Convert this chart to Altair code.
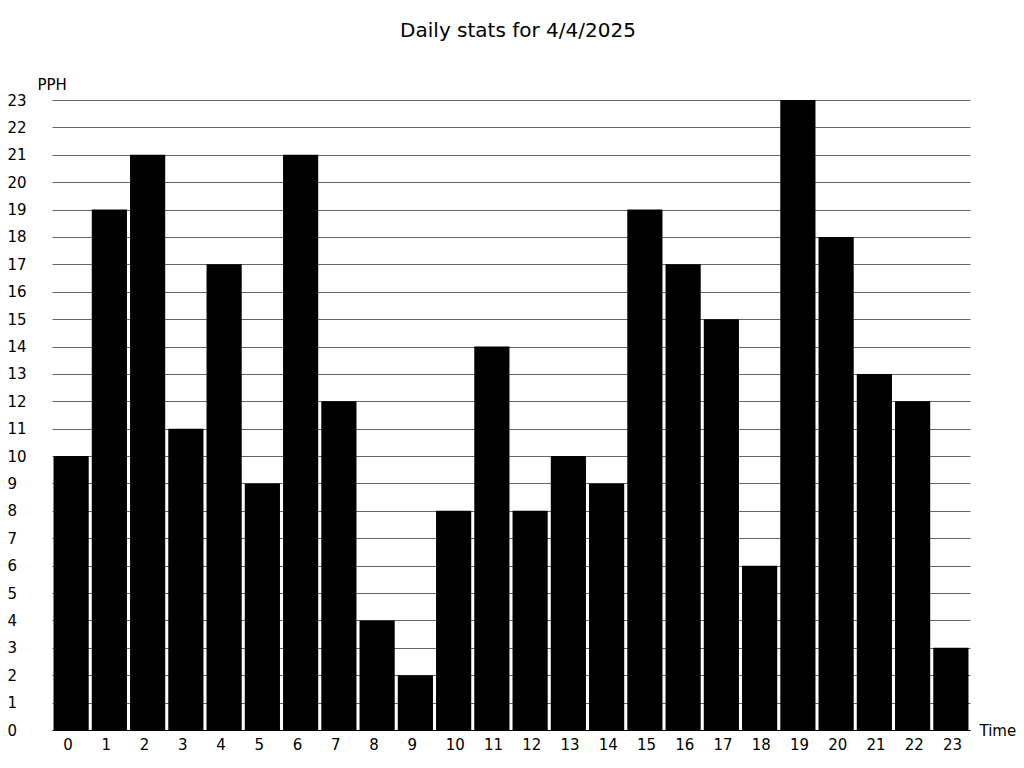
import altair as alt
import pandas as pd

hours = list(range(24))
pph = [10, 19, 21, 11, 17, 9, 21, 12, 4, 2, 8, 14, 8, 10, 9, 19, 17, 15, 6, 23, 18, 13, 12, 3]
y_ticks = list(range(24))

df = pd.DataFrame({"hour": hours, "pph": pph})

FONT = "DejaVu Sans"

chart = alt.Chart(df).mark_bar(color="black").encode(
    x=alt.X("hour:O",
            scale=alt.Scale(paddingInner=0.08, paddingOuter=0.04),
            axis=alt.Axis(title="Time", labelAngle=0, ticks=False, domain=True,
                          domainColor="black", domainWidth=1, labelPadding=7,
                          labelAlign="left", labelOffset=-8,
                          labelFontSize=15, labelFont=FONT, labelColor="black",
                          titleFont=FONT, titleFontSize=15, titleFontWeight="normal",
                          titleColor="black", titleAngle=0, titleX=927, titleY=0,
                          titleAlign="left", titleBaseline="middle", grid=False)),
    y=alt.Y("pph:Q",
            scale=alt.Scale(domain=[0, 23], nice=False),
            axis=alt.Axis(title="PPH", values=y_ticks, ticks=False, domain=False,
                          grid=True, gridColor="#666", gridWidth=1,
                          labelAlign="left", labelPadding=45, labelFontSize=15,
                          labelFont=FONT, labelColor="black",
                          titleFont=FONT, titleFontSize=15, titleFontWeight="normal",
                          titleColor="black", titleAngle=0, titleX=-15, titleY=-16,
                          titleAlign="left", titleBaseline="middle")),
).properties(
    width=918,
    height=630,
    title=alt.TitleParams("Daily stats for 4/4/2025", font=FONT, fontSize=20,
                          fontWeight="normal", color="black", anchor="middle",
                          offset=36, dx=7),
    autosize=alt.AutoSizeParams(type="none"),
    padding={"left": 44, "top": 92, "right": 46, "bottom": 22},
).configure_view(stroke=None)

chart.save("out.html", embed_options={"renderer": "svg", "actions": False})
